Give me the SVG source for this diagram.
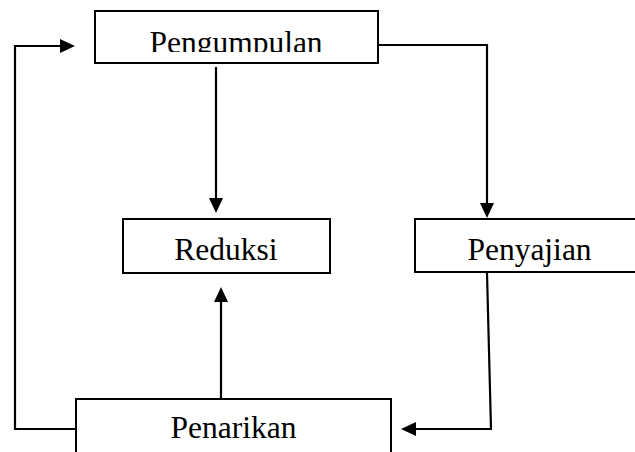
<svg xmlns="http://www.w3.org/2000/svg" width="635" height="452" viewBox="0 0 635 452">
  <style>
    .box { fill: #ffffff; stroke: #000000; stroke-width: 2; }
    .lbl { font-family: "Liberation Serif", "Times New Roman", serif; font-size: 31.5px; fill: #000000; text-anchor: middle; }
    .conn { fill: none; stroke: #000000; stroke-width: 2.2; stroke-linejoin: miter; }
  </style>
  <defs>
    <marker id="ah" markerUnits="userSpaceOnUse" markerWidth="16" markerHeight="14" refX="7" refY="7" orient="auto">
      <path d="M0,0 L15,7 L0,14 Z" fill="#000000"/>
    </marker>
    <clipPath id="clipTop"><rect x="96" y="12" width="281" height="40"/></clipPath>
  </defs>
  <rect width="635" height="452" fill="#ffffff"/>

  <g id="connectors">
    <!-- Pengumpulan -> Reduksi -->
    <path class="conn" d="M216,67 L216,205" marker-end="url(#ah)"/>
    <!-- Pengumpulan -> Penyajian -->
    <path class="conn" d="M378,45 L487,45 L487,210" marker-end="url(#ah)"/>
    <!-- Penyajian -> Penarikan -->
    <path class="conn" d="M487,273 L491,429 L409,429" marker-end="url(#ah)"/>
    <!-- Penarikan -> Reduksi -->
    <path class="conn" d="M221,399 L221,295" marker-end="url(#ah)"/>
    <!-- Penarikan -> Pengumpulan (loop) -->
    <path class="conn" d="M76,429 L15,429 L15,46 L67,46" marker-end="url(#ah)"/>
  </g>

  <g id="node-pengumpulan">
    <rect class="box" x="95" y="11" width="283" height="52"/>
    <text class="lbl" x="236" y="53" clip-path="url(#clipTop)">Pengumpulan</text>
  </g>

  <g id="node-reduksi">
    <rect class="box" x="123" y="219" width="207" height="54"/>
    <text class="lbl" x="226" y="260">Reduksi</text>
  </g>

  <g id="node-penyajian">
    <rect class="box" x="415" y="219" width="230" height="53"/>
    <text class="lbl" x="529.5" y="260">Penyajian</text>
  </g>

  <g id="node-penarikan">
    <rect class="box" x="76" y="399" width="315" height="70"/>
    <text class="lbl" x="233.5" y="438">Penarikan</text>
  </g>
</svg>
